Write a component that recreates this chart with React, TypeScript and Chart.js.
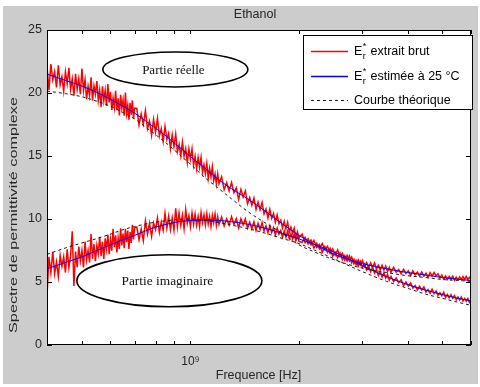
import React, { useEffect, useRef } from "react";
import { Chart, registerables } from "chart.js";

Chart.register(...registerables);

// ---- Data (frequencies in GHz) ----
const freqGHz = [
  0.400,0.405,0.410,0.415,0.420,0.425,0.430,0.435,0.440,0.445,0.450,0.455,0.460,0.465,0.470,0.475,0.480,0.485,0.490,0.495,
  0.500,0.505,0.510,0.515,0.520,0.525,0.530,0.535,0.540,0.545,0.550,0.555,0.560,0.565,0.570,0.575,0.580,0.585,0.590,0.595,
  0.600,0.605,0.610,0.615,0.620,0.625,0.630,0.635,0.640,0.645,0.650,0.655,0.660,0.665,0.670,0.675,0.680,0.685,0.690,0.695,0.700,
  0.71,0.72,0.73,0.74,0.75,0.76,0.77,0.78,0.79,0.80,0.81,0.82,0.83,0.84,0.85,0.86,0.87,0.88,0.89,0.90,
  0.91,0.92,0.93,0.94,0.95,0.96,0.97,0.98,0.99,1.00,1.01,1.02,1.03,1.04,1.05,1.06,1.07,1.08,1.09,1.10,
  1.11,1.12,1.13,1.14,1.15,1.16,1.17,1.18,1.19,1.20,
  1.22,1.24,1.26,1.28,1.30,1.32,1.34,1.36,1.38,1.40,1.42,1.44,1.46,1.48,1.50,1.52,1.54,1.56,1.58,1.60,
  1.62,1.64,1.66,1.68,1.70,1.72,1.74,1.76,1.78,1.80,1.82,1.84,1.86,1.88,1.90,1.92,1.94,1.96,1.98,2.00,
  2.04,2.08,2.12,2.16,2.20,2.24,2.28,2.32,2.36,2.40,2.44,2.48,2.52,2.56,2.60,2.64,2.68,2.72,2.76,2.80,
  2.84,2.88,2.92,2.96,3.00,3.04,3.08,3.12,3.16,3.20,3.24,3.28,3.32,3.36,3.40,3.44,3.48,3.52,3.56,3.60,
  3.66,3.72,3.78,3.84,3.90,3.96,4.02,4.08,4.14,4.20,4.26,4.32,4.38,4.44,4.50,4.56,4.62,4.68,4.74,4.80,
  4.86,4.92,4.98,5.04,5.10,5.16,5.22,5.28,5.34,5.40,5.46,5.52,5.58,5.64,5.70,5.76,5.82,5.88,5.94,6.00,
];

// raw extracted permittivity, real part (noisy red)
const rawReal = [
  22.10,20.25,22.30,21.05,21.70,20.45,22.20,20.65,21.30,20.15,21.70,20.75,22.00,20.27,21.12,19.78,21.53,20.29,21.14,19.90,
  21.95,20.20,21.05,19.50,20.55,19.80,21.25,19.40,20.55,19.90,20.95,19.40,20.24,18.89,20.53,19.38,20.22,18.97,20.71,19.26,
  20.10,18.65,19.59,18.84,20.18,18.63,19.57,18.22,19.86,18.81,19.45,18.20,20.04,18.39,19.03,17.88,19.22,18.27,19.41,17.96,18.80,
  18.78,17.46,18.34,17.52,18.60,17.18,17.76,16.64,17.92,16.90,17.99,16.58,17.17,16.16,17.35,16.33,16.81,15.59,16.67,15.75,
  16.74,15.33,15.92,15.01,16.10,14.99,15.58,14.47,15.56,14.75,15.56,14.27,14.97,13.98,14.89,14.10,14.90,13.70,14.30,13.60,
  14.41,13.22,14.03,13.34,14.15,13.06,13.57,12.78,13.59,12.80,
  13.36,12.32,12.88,12.24,12.90,12.09,12.48,11.56,12.35,11.74,12.23,11.21,11.70,11.09,11.67,10.76,11.34,10.73,11.31,10.40,
  10.79,10.08,10.77,10.06,10.45,9.74,10.33,9.62,9.91,9.30,9.81,9.22,9.73,8.94,9.35,8.86,9.27,8.58,8.99,8.50,
  8.81,8.12,8.43,7.94,8.30,7.74,7.98,7.37,7.81,7.35,7.67,7.04,7.36,6.93,7.30,6.77,7.09,6.67,7.07,6.52,
  6.81,6.36,6.76,6.35,6.70,6.22,6.54,6.15,6.52,6.14,6.51,6.03,6.34,5.96,6.33,5.95,6.27,5.84,6.16,5.78,
  6.16,5.78,5.99,5.65,6.01,5.68,5.89,5.52,5.89,5.57,5.79,5.47,5.80,5.47,5.70,5.38,5.75,5.48,5.75,5.48,
  5.65,5.33,5.56,5.24,5.47,5.20,5.44,5.22,5.46,5.14,5.38,5.17,5.40,5.19,5.43,5.21,5.45,5.19,5.38,5.22,
];

// raw extracted permittivity, imaginary part (noisy red)
const rawImag = [
  3.85,7.00,5.75,7.40,5.65,6.60,5.45,7.10,6.25,7.00,5.75,7.60,6.14,7.09,9.03,4.68,7.42,6.17,7.81,6.66,
  7.50,6.15,8.20,6.75,7.50,6.55,8.80,6.85,8.00,6.65,7.90,7.25,8.59,7.04,8.18,6.83,8.47,7.62,8.76,7.21,
  8.35,7.49,9.23,7.77,8.71,7.35,8.49,7.63,9.27,7.91,8.85,7.69,9.22,8.16,9.09,7.63,8.96,8.10,9.53,8.37,9.30,
  9.37,8.34,9.21,8.28,9.85,8.81,9.67,8.63,9.69,9.15,10.09,8.93,9.77,9.11,10.45,9.28,10.22,9.15,10.09,9.12,
  10.84,9.36,10.48,9.50,10.32,9.23,10.74,9.66,10.27,9.38,10.48,9.59,10.39,9.50,10.20,9.40,10.51,9.71,10.32,9.52,
  10.42,9.61,10.21,9.41,10.30,9.70,10.39,9.49,10.18,9.58,
  10.16,9.44,10.03,9.51,10.19,9.56,10.03,9.30,10.02,9.54,10.01,9.28,9.75,9.21,9.77,9.09,9.65,9.16,9.72,9.04,
  9.45,8.91,9.46,8.92,9.32,8.73,9.28,8.79,9.09,8.55,9.06,8.56,9.02,8.43,8.83,8.39,8.80,8.26,8.66,8.22,
  8.14,8.55,8.02,8.33,7.70,8.07,7.64,8.06,7.57,7.84,7.26,7.63,7.14,7.55,7.02,7.28,6.74,7.11,6.67,6.98,
  6.45,6.71,6.27,6.64,6.15,6.43,5.95,6.23,5.81,6.18,5.71,5.99,5.51,5.81,5.39,5.73,5.32,5.61,5.15,5.44,
  5.03,5.32,4.95,5.18,4.71,5.00,4.68,4.93,4.52,4.72,4.37,4.66,4.36,4.61,4.20,4.40,4.11,4.42,4.08,4.29,
  3.95,4.15,3.91,4.18,3.79,4.01,3.73,3.99,3.71,3.92,3.59,3.81,3.58,3.81,3.48,3.70,3.48,3.70,3.38,3.55,
];

// smooth curves (estimated at 25 °C and theoretical)
const smoothFreqGHz = [
  0.40,0.45,0.50,0.55,0.60,0.65,0.70,0.75,0.80,0.85,0.90,0.95,1.00,1.10,1.20,
  1.30,1.45,1.60,1.80,2.00,2.20,2.40,2.70,3.00,3.50,4.00,4.50,5.00,5.50,6.00,
];
const estReal = [
  21.5,21.0,20.55,20.05,19.5,18.95,18.4,17.8,17.2,16.65,16.05,15.5,14.95,14.0,13.1,
  12.4,11.55,10.7,9.6,8.7,8.0,7.45,6.85,6.45,6.05,5.75,5.55,5.35,5.22,5.12,
];
const estImag = [
  6.05,6.55,7.0,7.5,7.95,8.35,8.7,9.05,9.35,9.55,9.72,9.82,9.88,9.92,9.88,
  9.79,9.57,9.29,8.85,8.42,8.0,7.59,6.95,6.3,5.42,4.8,4.35,4.0,3.72,3.5,
];
const theoReal = [
  20.15,19.95,19.7,19.35,18.95,18.45,17.95,17.3,16.7,16.1,15.5,14.9,14.35,13.25,12.4,
  11.6,10.55,9.75,8.85,7.95,7.4,6.95,6.45,6.1,5.75,5.5,5.35,5.2,5.12,5.05,
];
const theoImag = [
  7.2,7.7,8.1,8.45,8.8,9.15,9.4,9.6,9.75,9.85,9.93,9.98,9.98,9.88,9.72,
  9.52,9.22,8.9,8.45,8.05,7.55,7.08,6.4,5.82,5.05,4.5,4.03,3.7,3.4,3.15,
];

const xTickValues = [4e8, 5e8, 6e8, 7e8, 8e8, 9e8, 1e9, 2e9, 3e9, 4e9, 5e9, 6e9];
const yTickValues = [0, 5, 10, 15, 20, 25];
const legendLabels = ["extrait brut", "estimée à 25 °C", "Courbe théorique"];
const annotations = [
  { text: "Partie réelle", fGHz: 0.908, value: 21.87, rx: 72.5, ry: 17.5, size: 13 },
  { text: "Partie imaginaire", fGHz: 0.874, value: 5.1, rx: 92.5, ry: 26, size: 13.4 },
];

const RED = "#ff0000";
const BLUE = "#0000ff";
const DASH = "#1a1a1a";
const SANS = "'Liberation Sans', Arial, sans-serif";
const SERIF = "'Liberation Serif', 'Times New Roman', serif";
const TXT = "#262626";

const pts = (fs: number[], vs: number[]) => fs.map((f, i) => ({ x: f * 1e9, y: vs[i] }));

const decor = {
  id: "decor",
  beforeDraw(chart: any) {
    const { ctx, chartArea: a, width, height } = chart;
    ctx.save();
    ctx.fillStyle = "#ffffff";
    ctx.fillRect(0, 0, width, height);
    ctx.fillStyle = "#cccccc";
    ctx.fillRect(3, 6, 475, 378);
    ctx.fillStyle = "#ffffff";
    ctx.fillRect(a.left, a.top, a.right - a.left, a.bottom - a.top);
    ctx.restore();
  },
  afterDatasetsDraw(chart: any) {
    const { ctx, chartArea: a, scales } = chart;
    const xs = scales.x, ys = scales.y;
    ctx.save();
    // annotations (ellipses)
    for (const an of annotations) {
      const cx = xs.getPixelForValue(an.fGHz * 1e9);
      const cy = ys.getPixelForValue(an.value);
      ctx.beginPath();
      ctx.ellipse(cx, cy, an.rx, an.ry, 0, 0, Math.PI * 2);
      ctx.fillStyle = "#ffffff";
      ctx.fill();
      ctx.lineWidth = 1.6;
      ctx.strokeStyle = "#000";
      ctx.stroke();
      ctx.fillStyle = "#111";
      ctx.font = `${an.size}px ${SERIF}`;
      ctx.textAlign = "center";
      ctx.textBaseline = "middle";
      ctx.fillText(an.text, cx - 2, cy + 1);
    }
    // frame
    ctx.lineWidth = 1;
    ctx.strokeStyle = "#000";
    ctx.strokeRect(a.left + 0.5, a.top + 0.5, a.right - a.left - 1, a.bottom - a.top - 1);
    // inward ticks
    ctx.beginPath();
    for (const v of xTickValues) {
      const px = Math.round(xs.getPixelForValue(v)) + 0.5;
      ctx.moveTo(px, a.bottom); ctx.lineTo(px, a.bottom - 4);
      ctx.moveTo(px, a.top); ctx.lineTo(px, a.top + 4);
    }
    for (const v of yTickValues) {
      const py = Math.round(ys.getPixelForValue(v)) + 0.5;
      ctx.moveTo(a.left, py); ctx.lineTo(a.left + 5, py);
      ctx.moveTo(a.right, py); ctx.lineTo(a.right - 5, py);
    }
    ctx.stroke();
    // legend
    const lx = 303.5, ly = 35.5, lw = 169, lh = 74;
    ctx.fillStyle = "#fff";
    ctx.fillRect(lx, ly, lw, lh);
    ctx.strokeStyle = "#000";
    ctx.strokeRect(lx, ly, lw, lh);
    const rows = [51, 76, 100];
    const rowColors = [RED, BLUE, DASH];
    const rowWidths = [1.6, 1.3, 1];
    const rowDash = [[], [], [3, 3]];
    rows.forEach((ry, i) => {
      ctx.beginPath();
      ctx.strokeStyle = rowColors[i];
      ctx.lineWidth = rowWidths[i];
      ctx.setLineDash(rowDash[i]);
      ctx.moveTo(311, ry + 0.5);
      ctx.lineTo(348, ry + 0.5);
      ctx.stroke();
      ctx.setLineDash([]);
      ctx.fillStyle = "#000";
      ctx.textAlign = "left";
      ctx.textBaseline = "middle";
      ctx.font = `12.5px ${SANS}`;
      if (i < 2) {
        ctx.fillText("E", 354, ry + 1);
        const w = ctx.measureText("E").width;
        ctx.font = `9px ${SANS}`;
        ctx.fillText("*", 354 + w + 0.5, ry - 4);
        ctx.fillText("r", 354 + w + 0.5, ry + 6);
        ctx.font = `12.5px ${SANS}`;
        ctx.fillText(legendLabels[i], 370.5, ry + 1);
      } else {
        ctx.fillText(legendLabels[i], 354, ry + 1);
      }
    });
    ctx.restore();
  },
  afterDraw(chart: any) {
    const { ctx } = chart;
    ctx.save();
    ctx.fillStyle = TXT;
    ctx.textAlign = "center";
    ctx.textBaseline = "middle";
    ctx.font = `12.5px ${SANS}`;
    ctx.fillText("Ethanol", 255, 15);
    ctx.fillText("Frequence [Hz]", 258.5, 376);
    ctx.translate(14, 215);
    ctx.rotate(-Math.PI / 2);
    ctx.font = `11.5px ${SANS}`;
    const label = "Spectre de permittivité complexe";
    const w = ctx.measureText(label).width;
    ctx.scale(236 / w, 1);
    ctx.fillText(label, 0, 0);
    ctx.restore();
  },
};

export default function App() {
  const ref = useRef<HTMLCanvasElement | null>(null);
  useEffect(() => {
    if (!ref.current) return;
    const chart = new Chart(ref.current, {
      type: "line",
      data: {
        datasets: [
          { label: "Courbe théorique (réelle)", data: pts(smoothFreqGHz, theoReal), borderColor: DASH, borderWidth: 1, borderDash: [3, 3], pointRadius: 0, cubicInterpolationMode: "monotone", order: 0 },
          { label: "Courbe théorique (imaginaire)", data: pts(smoothFreqGHz, theoImag), borderColor: DASH, borderWidth: 1, borderDash: [3, 3], pointRadius: 0, cubicInterpolationMode: "monotone", order: 0 },
          { label: "estimée réelle", data: pts(smoothFreqGHz, estReal), borderColor: BLUE, borderWidth: 1, pointRadius: 0, cubicInterpolationMode: "monotone", order: 1 },
          { label: "estimée imaginaire", data: pts(smoothFreqGHz, estImag), borderColor: BLUE, borderWidth: 1, pointRadius: 0, cubicInterpolationMode: "monotone", order: 1 },
          { label: "extrait brut réel", data: pts(freqGHz, rawReal), borderColor: RED, borderWidth: 1.5, pointRadius: 0, tension: 0, order: 2 },
          { label: "extrait brut imaginaire", data: pts(freqGHz, rawImag), borderColor: RED, borderWidth: 1.5, pointRadius: 0, tension: 0, order: 2 },
        ] as any,
      },
      options: {
        responsive: false,
        animation: false,
        events: [],
        layout: { padding: { top: 30, right: 6, left: 0, bottom: 0 } },
        plugins: { legend: { display: false }, title: { display: false }, tooltip: { enabled: false } },
        scales: {
          x: {
            type: "logarithmic",
            min: 4e8,
            max: 6e9,
            grid: { display: false, drawTicks: false },
            border: { display: false },
            afterBuildTicks: (s: any) => { s.ticks = xTickValues.map((v) => ({ value: v })); },
            afterFit: (s: any) => { s.height = 42; },
            ticks: {
              autoSkip: false,
              maxRotation: 0,
              padding: 9,
              color: TXT,
              font: { family: SANS, size: 12 },
              callback: (v: any) => (Number(v) === 1e9 ? "10⁹" : ""),
            },
          },
          y: {
            min: 0,
            max: 25,
            grid: { display: false, drawTicks: false },
            border: { display: false },
            afterBuildTicks: (s: any) => { s.ticks = yTickValues.map((v) => ({ value: v })); },
            afterFit: (s: any) => { s.width = 47; },
            ticks: { padding: 5, color: TXT, font: { family: SANS, size: 12.5 } },
          },
        },
      } as any,
      plugins: [decor],
    });
    return () => chart.destroy();
  }, []);
  return (
    <div style={{ position: "fixed", left: 0, top: 0, width: 480, height: 387 }}>
      <canvas ref={ref} width={480} height={387} style={{ display: "block", width: 480, height: 387 }} />
    </div>
  );
}
